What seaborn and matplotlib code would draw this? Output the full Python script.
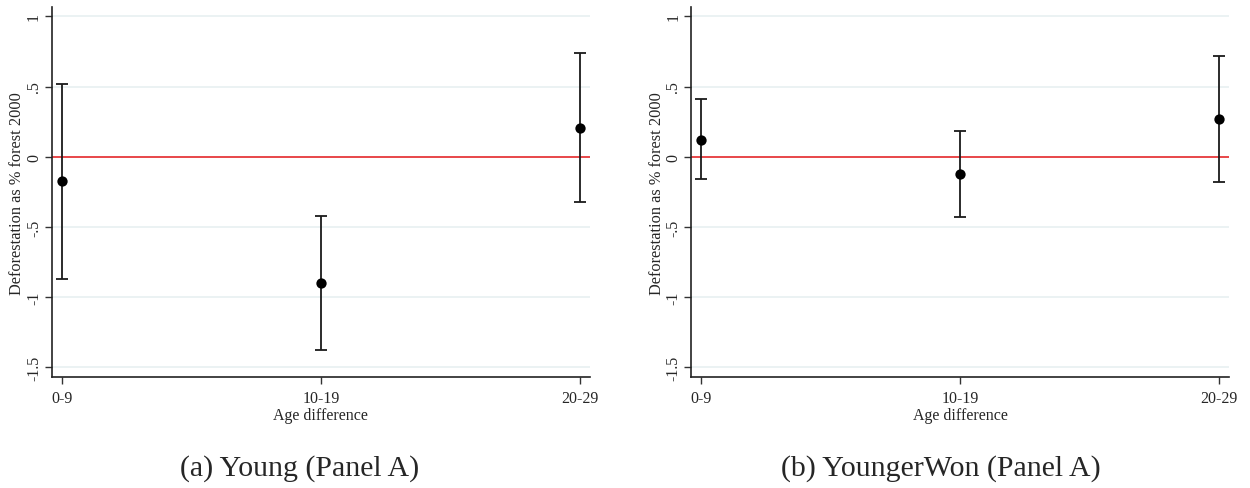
import matplotlib
matplotlib.use("Agg")
import matplotlib.pyplot as plt
import seaborn as sns
import pandas as pd

categories = ["0-9", "10-19", "20-29"]

young_coef = [-0.176, -0.90, 0.204]
young_lo = [-0.869, -1.38, -0.326]
young_hi = [0.52, -0.422, 0.74]

won_coef = [0.121, -0.123, 0.27]
won_lo = [-0.162, -0.432, -0.183]
won_hi = [0.41, 0.185, 0.72]

yticks = [1, 0.5, 0, -0.5, -1, -1.5]
ytick_labels = ["1", ".5", "0", "-.5", "-1", "-1.5"]
captions = ["(a) Young (Panel A)", "(b) YoungerWon (Panel A)"]
ylabel = "Deforestation as % forest 2000"
xlabel = "Age difference"

sns.set_theme(style="white")
plt.rcParams["font.family"] = ["Liberation Serif", "DejaVu Serif"]

fig = plt.figure(figsize=(12.5, 4.89), dpi=100)
axes = [fig.add_axes([0.0414, 0.2264, 0.4306, 0.7566]),
        fig.add_axes([0.5528, 0.2264, 0.4306, 0.7566])]

panels = [(young_coef, young_lo, young_hi), (won_coef, won_lo, won_hi)]
caption_x = [0.2395, 0.753]
grid_color = "#e8f0f1"
for ax, (coef, lo, hi), cap, cx in zip(axes, panels, captions, caption_x):
    df = pd.DataFrame({"pos": range(len(categories)), "cat": categories,
                       "coef": coef, "lo": lo, "hi": hi})
    for yt in yticks:
        ax.axhline(yt, color=grid_color, lw=1.2, zorder=0)
    ax.axhline(0, color="#e8393c", lw=1.3, zorder=1)
    ax.errorbar(df["pos"], df["coef"],
                yerr=[df["coef"] - df["lo"], df["hi"] - df["coef"]],
                fmt="none", ecolor="#1a1a1a", elinewidth=1.3, capsize=4,
                capthick=1.3, zorder=2)
    sns.scatterplot(data=df, x="pos", y="coef", ax=ax, color="black", s=55,
                    edgecolor="black", linewidth=0, zorder=3, legend=False)
    ax.set_xlim(-0.039, 2.039)
    ax.set_ylim(-1.571, 1.064)
    ax.set_xticks(df["pos"])
    ax.set_xticklabels(categories, fontsize=11.5)
    ax.set_yticks(yticks)
    ax.set_yticklabels(ytick_labels, fontsize=11.5, rotation=90, va="center")
    ax.tick_params(axis="both", direction="out", length=5, width=1,
                   color="#333333", pad=4, left=True, bottom=True)
    ax.tick_params(axis="y", pad=2)
    ax.set_xlabel(xlabel, fontsize=11.5, labelpad=1)
    ax.set_ylabel(ylabel, fontsize=11.8)
    ax.yaxis.set_label_coords(-0.049, 0.5)
    ax.grid(False)
    for side in ["top", "right"]:
        ax.spines[side].set_visible(False)
    for side in ["left", "bottom"]:
        ax.spines[side].set_color("#222222")
        ax.spines[side].set_linewidth(1.2)
    fig.text(cx, 0.041, cap, ha="center", va="center", fontsize=21.5)

fig.savefig("out.png", dpi=100, facecolor="white")
